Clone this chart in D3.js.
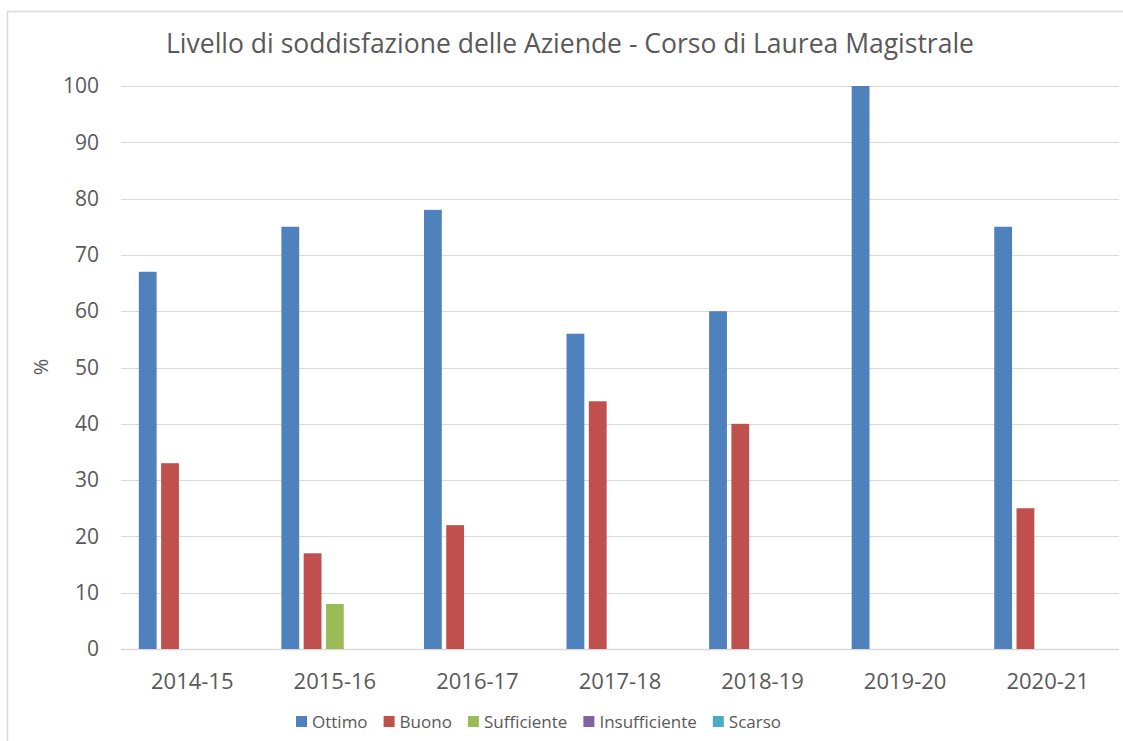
<!DOCTYPE html>
<html>
<head>
<meta charset="utf-8">
<script src="https://cdn.jsdelivr.net/npm/d3@7"></script>
<style>
  html, body { margin: 0; padding: 0; background: #fff; }
  svg { display: block; font-family: "Open Sans", "Liberation Sans", sans-serif; }
</style>
</head>
<body>
<svg id="chart"></svg>
<script>
// Livello di soddisfazione delle Aziende - Corso di Laurea Magistrale
const years = ['2014-15', '2015-16', '2016-17', '2017-18', '2018-19', '2019-20', '2020-21'];
const seriesNames = ['Ottimo', 'Buono', 'Sufficiente', 'Insufficiente', 'Scarso'];
const ottimo = [67, 75, 78, 56, 60, 100, 75];
const buono = [33, 17, 22, 44, 40, 0, 25];
const sufficiente = [0, 8, 0, 0, 0, 0, 0];
const insufficiente = [0, 0, 0, 0, 0, 0, 0];
const scarso = [0, 0, 0, 0, 0, 0, 0];
const yTicks = [0, 10, 20, 30, 40, 50, 60, 70, 80, 90, 100];

const COLORS = ['#4F81BD', '#C0504D', '#9BBB59', '#8064A2', '#4BACC6'];
const values = [ottimo, buono, sufficiente, insufficiente, scarso];

const width = 1123, height = 741;
const plot = { left: 121, right: 1119, top: 86, bottom: 649 };

const svg = d3.select('#chart')
  .attr('width', width)
  .attr('height', height)
  .attr('viewBox', `0 0 ${width} ${height}`);

// chart frame (runs off the right and bottom edge like the source)
svg.append('rect')
  .attr('x', 7.5).attr('y', 11.5)
  .attr('width', width + 20).attr('height', height + 20)
  .attr('fill', '#fff')
  .attr('stroke', '#d9d9d9')
  .attr('stroke-width', 1.5);

const x0 = d3.scaleBand()
  .domain(years)
  .range([plot.left, plot.right])
  .paddingInner(0.25)
  .paddingOuter(0.125);

const x1 = d3.scaleBand()
  .domain(seriesNames)
  .range([0, x0.bandwidth()])
  .paddingInner(0.2);

const y = d3.scaleLinear()
  .domain([0, 100])
  .range([plot.bottom, plot.top]);

// gridlines
svg.append('g')
  .selectAll('line')
  .data(yTicks)
  .join('line')
  .attr('x1', plot.left).attr('x2', plot.right)
  .attr('y1', d => Math.round(y(d)) + 0.5)
  .attr('y2', d => Math.round(y(d)) + 0.5)
  .attr('stroke', '#d9d9d9')
  .attr('stroke-width', d => d === 0 ? 1.5 : 1);

// y axis labels
const yAxis = svg.append('g')
  .attr('transform', `translate(${plot.left - 22},0)`)
  .call(d3.axisLeft(y).tickValues(yTicks).tickSize(0).tickPadding(0));
yAxis.select('.domain').remove();
yAxis.selectAll('text')
  .attr('font-size', '21px')
  .attr('font-family', '"Open Sans", sans-serif')
  .attr('fill', '#595959');

// bars
const groups = svg.append('g')
  .selectAll('g')
  .data(years)
  .join('g')
  .attr('transform', d => `translate(${x0(d)},0)`);

groups.selectAll('rect')
  .data((d, i) => seriesNames.map((s, j) => ({ series: s, idx: j, value: values[j][i] })))
  .join('rect')
  .attr('x', d => x1(d.series))
  .attr('width', x1.bandwidth())
  .attr('y', d => y(d.value))
  .attr('height', d => y(0) - y(d.value))
  .attr('fill', d => COLORS[d.idx]);

// x axis labels
const xAxis = svg.append('g')
  .attr('transform', `translate(0,${plot.bottom + 40})`)
  .call(d3.axisBottom(x0).tickSize(0).tickPadding(0));
xAxis.select('.domain').remove();
xAxis.selectAll('text')
  .attr('dy', 0)
  .attr('font-size', '22px')
  .attr('font-family', '"Open Sans", sans-serif')
  .attr('fill', '#595959');

// title
svg.append('text')
  .attr('x', 570)
  .attr('y', 53)
  .attr('text-anchor', 'middle')
  .attr('font-size', '26.5px')
  .attr('fill', '#595959')
  .text('Livello di soddisfazione delle Aziende - Corso di Laurea Magistrale');

// y axis title
svg.append('text')
  .attr('transform', 'translate(48,367) rotate(-90)')
  .attr('text-anchor', 'middle')
  .attr('font-size', '20px')
  .attr('fill', '#595959')
  .text('%');

// legend
const legend = svg.append('g').attr('transform', 'translate(296,716)');
let lx = 0;
seriesNames.forEach((s, i) => {
  legend.append('rect')
    .attr('x', lx).attr('y', 0)
    .attr('width', 11).attr('height', 11)
    .attr('fill', COLORS[i]);
  const t = legend.append('text')
    .attr('x', lx + 16)
    .attr('y', 12)
    .attr('font-size', '17px')
    .attr('fill', '#595959')
    .text(s);
  lx += 16 + t.node().getComputedTextLength() + 16;
});
</script>
</body>
</html>
